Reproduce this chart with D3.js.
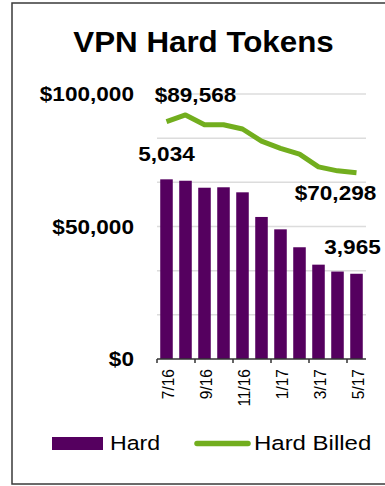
<!DOCTYPE html>
<html>
<head>
<meta charset="utf-8">
<script src="https://cdn.jsdelivr.net/npm/d3@7"></script>
<style>
  html, body { margin: 0; padding: 0; background: #fff; }
  svg { display: block; font-family: Arial, "Liberation Sans", sans-serif; }
</style>
</head>
<body>
<svg id="chart" width="385" height="486"></svg>
<script>
// Monthly categories
const months = ["7/16", "8/16", "9/16", "10/16", "11/16", "12/16", "1/17", "2/17", "3/17", "4/17", "5/17"];
// Hard tokens in use (bars, secondary scale)
const hardTokens = [5034, 5018, 4939, 4944, 4887, 4608, 4468, 4265, 4068, 3990, 3965];
// Amount billed for hard tokens (line, dollar scale)
const hardBilled = [89568, 92100, 88400, 88400, 86800, 82200, 79500, 77300, 72500, 71000, 70298];
// Dollar axis tick values
const dollarTicks = [0, 50000, 100000];
// Secondary (token count) range and gridline values
const tokenDomain = [3000, 6000];
const tokenTicks = [3000, 3500, 4000, 4500, 5000, 5500, 6000];

const purple = "#55005f";
const green = "#72ae1e";
const WIDE = 1.13; // horizontal widening applied to the text glyphs

const svg = d3.select("#chart");

// places a text element at (x, y), widened horizontally around its anchor
function wideText(parent, x, y, str, opts) {
  return parent.append("text")
    .attr("transform", `translate(${x},${y}) scale(${opts.sx || WIDE},1)`)
    .attr("text-anchor", opts.anchor || "start")
    .attr("font-size", opts.size)
    .attr("font-weight", opts.weight || "normal")
    .attr("fill", "#000")
    .text(str);
}

// frame around the chart
svg.append("rect")
  .attr("x", 12).attr("y", 3)
  .attr("width", 390).attr("height", 481)
  .attr("fill", "#fff")
  .attr("stroke", "#3a3a3a")
  .attr("stroke-width", 1.5);

const plot = { left: 157, right: 366, top: 94, bottom: 359 };

const x = d3.scaleBand()
  .domain(months)
  .range([plot.left, plot.right])
  .paddingInner(0.34)
  .paddingOuter(0.17);

const yDollar = d3.scaleLinear().domain([0, 100000]).range([plot.bottom, plot.top]);
const yTokens = d3.scaleLinear().domain(tokenDomain).range([plot.bottom, plot.top]);

// title
wideText(svg, 203.5, 52, "VPN Hard Tokens", { anchor: "middle", size: 29, weight: "bold", sx: 1.08 });

// horizontal gridlines from the token scale
svg.append("g")
  .selectAll("line")
  .data(tokenTicks.slice(1))
  .join("line")
  .attr("x1", plot.left).attr("x2", plot.right)
  .attr("y1", d => yTokens(d)).attr("y2", d => yTokens(d))
  .attr("stroke", "#dcdcdc")
  .attr("stroke-width", 1.5);

// dollar axis labels on the left
const yg = svg.append("g");
const fmtDollar = d => "$" + d3.format(",")(d);
dollarTicks.forEach(v => {
  wideText(yg, plot.left - 23, yDollar(v) + 7, fmtDollar(v), { anchor: "end", size: 20, weight: "bold" });
});

// bars
svg.append("g")
  .selectAll("rect")
  .data(hardTokens)
  .join("rect")
  .attr("x", (d, i) => x(months[i]))
  .attr("y", d => yTokens(d))
  .attr("width", x.bandwidth())
  .attr("height", d => plot.bottom - yTokens(d))
  .attr("fill", purple);

// category axis
const xg = svg.append("g")
  .attr("transform", `translate(0,${plot.bottom})`);
xg.append("line")
  .attr("x1", plot.left).attr("x2", plot.right)
  .attr("y1", 0).attr("y2", 0)
  .attr("stroke", "#333").attr("stroke-width", 1.5);

// tick marks at every second category boundary
const step = x.step();
const boundaryIdx = d3.range(0, months.length, 2);
xg.selectAll(".bt")
  .data(boundaryIdx)
  .join("line")
  .attr("class", "bt")
  .attr("x1", i => plot.left + i * step).attr("x2", i => plot.left + i * step)
  .attr("y1", 0).attr("y2", 4)
  .attr("stroke", "#333").attr("stroke-width", 1.5);

// rotated month labels for every other category
xg.selectAll(".ml")
  .data(months.filter((m, i) => i % 2 === 0))
  .join("text")
  .attr("class", "ml")
  .attr("transform", m => `translate(${x(m) + x.bandwidth() / 2 + 7.5},10) rotate(-90) scale(1,1.1)`)
  .attr("text-anchor", "end")
  .attr("font-size", 15.5)
  .attr("fill", "#000")
  .text(m => m);

// billed line
const line = d3.line()
  .x((d, i) => x(months[i]) + x.bandwidth() / 2)
  .y(d => yDollar(d));
svg.append("path")
  .datum(hardBilled)
  .attr("d", line)
  .attr("fill", "none")
  .attr("stroke", green)
  .attr("stroke-width", 5)
  .attr("stroke-linejoin", "round");

// value labels
const cx = i => x(months[i]) + x.bandwidth() / 2;
const last = months.length - 1;
const labels = [
  { text: fmtDollar(hardBilled[0]), x: cx(0) + 29, y: yDollar(hardBilled[0]) - 20 },
  { text: d3.format(",")(hardTokens[0]), x: cx(0), y: yTokens(hardTokens[0]) - 18 },
  { text: fmtDollar(hardBilled[last]), x: cx(last) - 21, y: yDollar(hardBilled[last]) + 27 },
  { text: d3.format(",")(hardTokens[last]), x: cx(last) - 4, y: yTokens(hardTokens[last]) - 20 }
];
const lbl = svg.append("g");
labels.forEach(d => wideText(lbl, d.x, d.y, d.text, { anchor: "middle", size: 20, weight: "bold" }));

// legend
const lg = svg.append("g");
lg.append("rect")
  .attr("x", 52).attr("y", 437).attr("width", 51).attr("height", 13)
  .attr("fill", purple);
wideText(lg, 110, 450, "Hard", { size: 20.5 });
lg.append("line")
  .attr("x1", 197).attr("x2", 248).attr("y1", 443.5).attr("y2", 443.5)
  .attr("stroke", green).attr("stroke-width", 5.5).attr("stroke-linecap", "round");
wideText(lg, 254, 450, "Hard Billed", { size: 20.5, sx: 1.17 });
</script>
</body>
</html>
